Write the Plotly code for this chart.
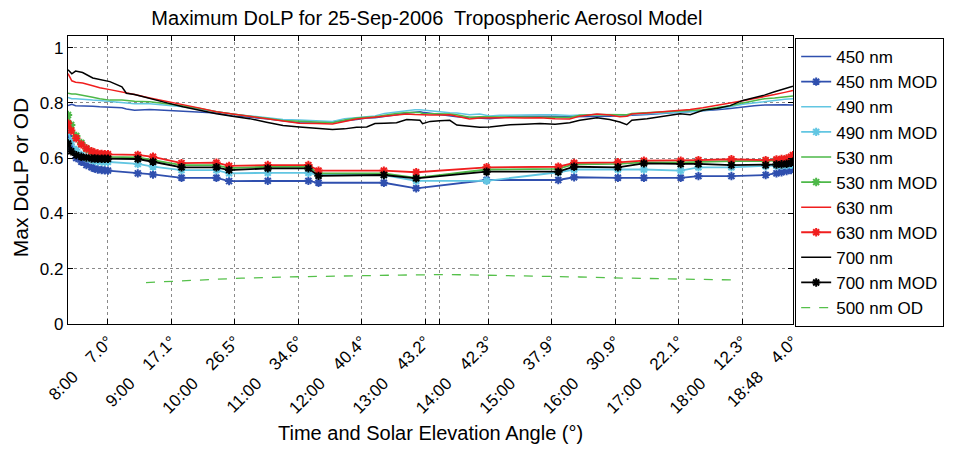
import plotly.graph_objects as go

# ---------------- data ----------------
hours = [7.37, 7.43, 7.49, 7.60, 7.76, 7.87, 8.03, 8.22, 8.29, 8.42, 8.66, 8.93,
         9.18, 9.45, 9.71, 9.96, 10.23, 10.50, 10.76, 11.02, 11.29, 11.54, 11.73,
         11.92, 12.08, 12.21, 12.36, 12.55, 12.71, 12.84, 12.92, 12.96, 13.08,
         13.23, 13.39, 13.50, 13.70, 13.86, 14.02, 14.18, 14.34, 14.57, 14.81,
         15.05, 15.28, 15.44, 15.71, 15.91, 16.07, 16.18, 16.26, 16.50, 16.78,
         17.02, 17.18, 17.38, 17.60, 17.81, 18.01, 18.19, 18.35, 18.51, 18.67, 18.80]

dolp_450 = [0.790, 0.795, 0.790, 0.790, 0.788, 0.786, 0.784, 0.782, 0.778, 0.773, 0.776, 0.773,
            0.770, 0.768, 0.763, 0.753, 0.748, 0.743, 0.735, 0.728, 0.727, 0.731, 0.735,
            0.740, 0.745, 0.746, 0.750, 0.757, 0.763, 0.766, 0.768, 0.766, 0.762,
            0.757, 0.753, 0.750, 0.747, 0.745, 0.743, 0.746, 0.750, 0.752, 0.753,
            0.752, 0.750, 0.750, 0.752, 0.752, 0.753, 0.753, 0.755, 0.758, 0.762,
            0.766, 0.768, 0.770, 0.775, 0.780, 0.786, 0.790, 0.792, 0.793, 0.793, 0.792]

dolp_490 = [0.820, 0.815, 0.815, 0.812, 0.810, 0.809, 0.806, 0.803, 0.800, 0.797, 0.797, 0.792,
            0.786, 0.777, 0.767, 0.760, 0.753, 0.747, 0.740, 0.738, 0.735, 0.733, 0.743,
            0.748, 0.750, 0.753, 0.762, 0.768, 0.772, 0.775, 0.775, 0.774, 0.770,
            0.766, 0.764, 0.763, 0.757, 0.760, 0.753, 0.755, 0.756, 0.757, 0.757,
            0.757, 0.754, 0.756, 0.758, 0.755, 0.753, 0.752, 0.758, 0.760, 0.763,
            0.766, 0.768, 0.772, 0.778, 0.786, 0.795, 0.800, 0.805, 0.810, 0.813, 0.815]

dolp_530 = [0.835, 0.832, 0.832, 0.828, 0.820, 0.815, 0.810, 0.810, 0.808, 0.806, 0.804, 0.798,
            0.790, 0.780, 0.768, 0.760, 0.753, 0.744, 0.736, 0.733, 0.730, 0.728, 0.738,
            0.745, 0.748, 0.750, 0.755, 0.762, 0.765, 0.766, 0.765, 0.762, 0.762,
            0.760, 0.760, 0.757, 0.748, 0.750, 0.750, 0.749, 0.750, 0.750, 0.748,
            0.748, 0.747, 0.755, 0.758, 0.757, 0.756, 0.757, 0.762, 0.765, 0.768,
            0.770, 0.772, 0.775, 0.783, 0.790, 0.800, 0.808, 0.815, 0.818, 0.822, 0.825]

dolp_630 = [0.906, 0.880, 0.875, 0.872, 0.862, 0.855, 0.848, 0.840, 0.835, 0.830, 0.818, 0.806,
            0.793, 0.781, 0.768, 0.760, 0.752, 0.742, 0.733, 0.726, 0.725, 0.724, 0.733,
            0.742, 0.745, 0.748, 0.752, 0.757, 0.760, 0.758, 0.757, 0.757, 0.756,
            0.756, 0.757, 0.752, 0.742, 0.745, 0.746, 0.745, 0.746, 0.745, 0.746,
            0.743, 0.742, 0.752, 0.760, 0.756, 0.750, 0.752, 0.760, 0.763, 0.768,
            0.773, 0.776, 0.782, 0.790, 0.800, 0.808, 0.815, 0.822, 0.830, 0.838, 0.845]

dolp_700 = [0.920, 0.905, 0.915, 0.910, 0.890, 0.885, 0.877, 0.858, 0.835, 0.830, 0.815, 0.800,
            0.786, 0.773, 0.761, 0.752, 0.743, 0.730, 0.718, 0.713, 0.708, 0.704, 0.706,
            0.712, 0.713, 0.725, 0.726, 0.728, 0.740, 0.738, 0.737, 0.725, 0.733,
            0.735, 0.737, 0.720, 0.715, 0.712, 0.713, 0.718, 0.721, 0.723, 0.725,
            0.723, 0.728, 0.737, 0.746, 0.740, 0.731, 0.721, 0.737, 0.743, 0.752,
            0.761, 0.757, 0.773, 0.780, 0.790, 0.809, 0.818, 0.828, 0.840, 0.850, 0.860]

mod_hours = [7.37, 7.42, 7.50, 7.58, 7.66, 7.74, 7.79, 7.84, 7.90, 7.95, 8.00, 8.47,
             8.71, 9.16, 9.71, 9.91, 10.52, 11.16, 11.32, 12.35, 12.86, 13.97, 15.10,
             15.35, 16.04, 16.45, 17.03, 17.31, 17.83, 18.37, 18.54, 18.62, 18.70,
             18.77, 18.80]

mod_450 = [0.680, 0.640, 0.600, 0.587, 0.575, 0.567, 0.562, 0.559, 0.557, 0.556, 0.555, 0.545,
           0.541, 0.529, 0.529, 0.517, 0.518, 0.518, 0.511, 0.511, 0.491, 0.521, 0.521,
           0.531, 0.529, 0.529, 0.529, 0.535, 0.535, 0.539, 0.545, 0.549, 0.553,
           0.557, 0.563]

mod_490 = [0.700, 0.660, 0.630, 0.612, 0.600, 0.594, 0.591, 0.589, 0.588, 0.587, 0.587, 0.579,
           0.569, 0.557, 0.557, 0.545, 0.547, 0.547, 0.539, 0.539, 0.518, 0.518, 0.549,
           0.559, 0.559, 0.559, 0.555, 0.567, 0.567, 0.571, 0.572, 0.573, 0.574,
           0.576, 0.578]

mod_530 = [0.756, 0.720, 0.680, 0.655, 0.635, 0.622, 0.615, 0.610, 0.607, 0.606, 0.605, 0.603,
           0.593, 0.575, 0.575, 0.564, 0.569, 0.569, 0.545, 0.545, 0.529, 0.559, 0.561,
           0.578, 0.579, 0.585, 0.585, 0.587, 0.589, 0.589, 0.591, 0.593, 0.595,
           0.597, 0.600]

mod_630 = [0.726, 0.700, 0.672, 0.650, 0.635, 0.625, 0.620, 0.617, 0.615, 0.614, 0.614, 0.612,
           0.605, 0.582, 0.584, 0.572, 0.575, 0.575, 0.555, 0.555, 0.549, 0.567, 0.569,
           0.583, 0.585, 0.591, 0.591, 0.593, 0.596, 0.593, 0.595, 0.597, 0.599,
           0.605, 0.611]

mod_700 = [0.653, 0.625, 0.611, 0.605, 0.602, 0.599, 0.599, 0.598, 0.598, 0.598, 0.598, 0.597,
           0.587, 0.567, 0.567, 0.557, 0.563, 0.563, 0.536, 0.539, 0.527, 0.551, 0.551,
           0.569, 0.567, 0.581, 0.579, 0.579, 0.575, 0.575, 0.577, 0.578, 0.580,
           0.583, 0.587]

od_hours = [8.60, 9.45, 10.11, 11.02, 11.62, 12.60, 13.37, 14.02, 14.67, 15.44, 16.18, 17.02, 17.96]
od_500 = [0.150, 0.158, 0.166, 0.171, 0.174, 0.177, 0.179, 0.177, 0.174, 0.170, 0.166, 0.162, 0.159]

tick_hours = [8, 9, 10, 11, 12, 13, 13.23, 14, 15, 16, 17, 18, 18.8]
tick_times = ["8:00", "9:00", "10:00", "11:00", "12:00", "13:00", "", "14:00",
              "15:00", "16:00", "17:00", "18:00", "18:48"]
tick_angles = ["7.0°", "17.1°", "26.5°", "34.6°", "40.4°", "43.2°", "", "42.3°",
               "37.9°", "30.9°", "22.1°", "12.3°", "4.0°"]

# ---------------- styling ----------------
FONT = "Liberation Sans, Arial, sans-serif"
colors = {"450": "#2f4fae", "490": "#62c6e2", "530": "#4db848", "630": "#f01e1e", "700": "#000000"}

fig = go.Figure()
cont = {"450": dolp_450, "490": dolp_490, "530": dolp_530, "630": dolp_630, "700": dolp_700}
mods = {"450": mod_450, "490": mod_490, "530": mod_530, "630": mod_630, "700": mod_700}

for wl in ["450", "490", "530", "630", "700"]:
    fig.add_trace(go.Scatter(x=hours, y=cont[wl], mode="lines", name=f"{wl} nm",
                             line=dict(color=colors[wl], width=1.5)))
    fig.add_trace(go.Scatter(x=mod_hours, y=mods[wl], mode="lines+markers", name=f"{wl} nm MOD",
                             line=dict(color=colors[wl], width=1.8),
                             marker=dict(symbol="asterisk-open", size=7,
                                         line=dict(color=colors[wl], width=2))))

fig.add_trace(go.Scatter(x=od_hours, y=od_500, mode="lines", name="500 nm OD",
                         line=dict(color="#55c04a", width=1.3, dash="dash")))

GAP = "\u00a0" * 4
ticktext = [(t + GAP + a) if t else "" for t, a in zip(tick_times, tick_angles)]

# the page body adds an 8px offset, so the figure is sized 8px smaller on each axis
fig.update_layout(
    width=952, height=457,
    margin=dict(l=60, r=167, t=28, b=141),
    paper_bgcolor="white", plot_bgcolor="white",
    font=dict(family=FONT, color="black", size=16),
    showlegend=True,
    legend=dict(x=1.003, xanchor="left", y=0.993, yanchor="top",
                bordercolor="black", borderwidth=1, bgcolor="white",
                font=dict(size=17, family=FONT), tracegroupgap=0, maxheight=420,
                entrywidth=122, entrywidthmode="pixels"),
    title=dict(text="Maximum DoLP for 25-Sep-2006\u00a0 Tropospheric Aerosol Model",
               xref="paper", x=0.495, xanchor="center", y=0.978, yanchor="middle",
               font=dict(size=20, family=FONT)),
    annotations=[
        dict(text="Time and Solar Elevation Angle (\u00b0)", xref="paper", yref="paper",
             x=0.5, y=-0.378, xanchor="center", yanchor="middle", showarrow=False,
             font=dict(size=20, family=FONT)),
        dict(text="Max DoLP or OD", xref="paper", yref="paper", textangle=-90,
             x=-0.066, y=0.51, xanchor="center", yanchor="middle", showarrow=False,
             font=dict(size=21, family=FONT)),
    ],
)

fig.update_xaxes(range=[7.37, 18.801], tickmode="array", tickvals=tick_hours, ticktext=ticktext,
                 tickangle=-45, tickfont=dict(size=17, family=FONT),
                 showgrid=True, gridcolor="#8a8a8a", griddash="dot", gridwidth=1,
                 showline=True, linecolor="black", linewidth=1.3, mirror="ticks",
                 ticks="inside", ticklen=5, tickcolor="black", zeroline=False)
fig.update_yaxes(range=[0, 1.042], tickmode="array", tickvals=[0, 0.2, 0.4, 0.6, 0.8, 1.0],
                 ticktext=["0", "0.2", "0.4", "0.6", "0.8", "1"],
                 tickfont=dict(size=17, family=FONT),
                 showgrid=True, gridcolor="#8a8a8a", griddash="dot", gridwidth=1,
                 showline=True, linecolor="black", linewidth=1.3, mirror="ticks",
                 ticks="inside", ticklen=5, tickcolor="black", zeroline=False)

fig.write_html("out.html")
